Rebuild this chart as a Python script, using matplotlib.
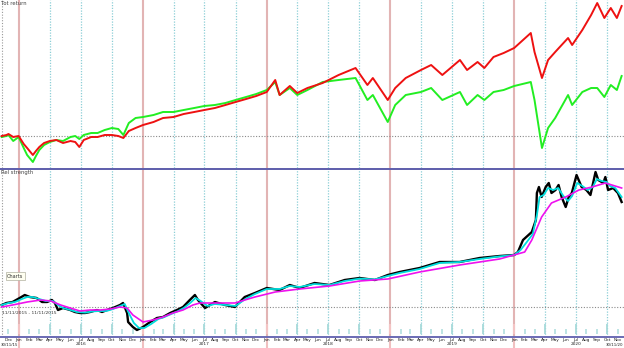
import matplotlib
matplotlib.use("Agg")
import matplotlib.pyplot as plt
import pandas as pd

# ---- data ----
tot_dates = ["2015-11-11", "2015-11-25", "2015-12-01", "2015-12-15", "2015-12-31",
             "2016-01-15", "2016-01-25", "2016-02-11", "2016-02-20", "2016-03-01", "2016-03-15",
             "2016-04-01", "2016-04-20", "2016-05-10", "2016-06-01", "2016-06-15", "2016-06-27",
             "2016-07-10", "2016-08-01", "2016-08-20", "2016-09-10", "2016-10-01", "2016-10-20",
             "2016-11-04", "2016-11-20", "2016-12-10", "2017-01-01",
             "2017-02-01", "2017-03-01", "2017-04-01", "2017-05-01", "2017-06-01", "2017-07-01",
             "2017-08-01", "2017-09-01", "2017-10-01", "2017-11-01", "2017-12-01", "2018-01-01",
             "2018-01-26", "2018-02-08", "2018-03-10", "2018-04-01", "2018-05-01", "2018-06-15",
             "2018-08-01", "2018-09-20", "2018-10-25", "2018-11-10", "2018-12-24", "2019-01-15",
             "2019-02-15", "2019-04-01", "2019-05-01", "2019-06-03", "2019-07-25", "2019-08-15",
             "2019-09-15", "2019-10-05", "2019-11-01", "2019-12-01", "2020-01-01", "2020-02-19",
             "2020-03-01", "2020-03-23", "2020-04-10", "2020-05-01", "2020-06-08", "2020-06-20",
             "2020-07-20", "2020-08-15", "2020-09-02", "2020-09-23", "2020-10-12", "2020-10-30",
             "2020-11-13"]
tot_red = [100, 100.5, 101, 99.5, 100,
           96, 94, 90.5, 92.5, 94.5, 96.5,
           97.5, 98, 96.5, 97.5, 97, 94.5,
           98, 99.5, 99.5, 100.5, 100.5, 100,
           99, 102.5, 104, 105.5,
           107, 109, 109.5, 111, 112, 113,
           114, 115.5, 117, 118.5, 120, 122,
           128, 120.5, 125, 121.5, 124, 126.5,
           130.5, 134, 125.5, 129, 118, 124,
           129, 133, 135.5, 130.5, 138, 133,
           137, 134, 139.5, 141.5, 144, 151.5,
           142, 129, 138, 142, 149, 145.5,
           153, 160.5, 166.5, 159, 164, 159,
           165]
tot_green = [99.5, 100, 100.5, 97.5, 99.5,
             94, 90.5, 87, 90, 93, 95.5,
             97, 98, 97.5, 99.5, 100, 98.5,
             100.5, 101.5, 101.5, 103, 104, 103.5,
             100.5, 106.5, 109, 109.5,
             110.5, 112, 112, 113, 114, 115,
             115.5, 116.5, 118, 119.5, 121, 123,
             127, 120.5, 124, 120.5, 123, 127,
             128, 129, 118, 120.5, 107, 115.5,
             120.5, 122, 124, 118, 122, 115.5,
             120.5, 118, 122, 123, 125, 127,
             118, 94, 104, 109, 120.5, 115.5,
             122, 124, 124, 119.5, 125.5, 123,
             130]

rs_dates = ["2015-11-11", "2015-11-25", "2015-12-13", "2016-01-03", "2016-01-18", "2016-02-02",
            "2016-02-22", "2016-03-09", "2016-03-24", "2016-04-07", "2016-04-16", "2016-04-25",
            "2016-05-10", "2016-05-31", "2016-06-14", "2016-06-29", "2016-07-14", "2016-07-29",
            "2016-08-18", "2016-09-02", "2016-09-17", "2016-10-04", "2016-10-25", "2016-11-03",
            "2016-11-15", "2016-11-18", "2016-12-02", "2016-12-14", "2017-01-01", "2017-01-22",
            "2017-02-11", "2017-03-01", "2017-03-22", "2017-04-11", "2017-04-29", "2017-05-19",
            "2017-06-03", "2017-06-12", "2017-07-03", "2017-08-01", "2017-08-31", "2017-09-29",
            "2017-10-28", "2017-11-27", "2018-01-01", "2018-02-08", "2018-03-10", "2018-04-08",
            "2018-05-22", "2018-07-05", "2018-08-19", "2018-10-02", "2018-11-16", "2018-12-24",
            "2019-01-28", "2019-03-28", "2019-05-26", "2019-07-24", "2019-09-21", "2019-11-19",
            "2020-01-01", "2020-01-12", "2020-01-27", "2020-02-22", "2020-03-05", "2020-03-08",
            "2020-03-14", "2020-03-22", "2020-04-03", "2020-04-12", "2020-04-20", "2020-05-02",
            "2020-05-11", "2020-05-20", "2020-06-01", "2020-06-10", "2020-06-19", "2020-07-03",
            "2020-07-18", "2020-08-01", "2020-08-13", "2020-08-28", "2020-09-05", "2020-09-20",
            "2020-09-26", "2020-10-04", "2020-10-19", "2020-11-02", "2020-11-13"]
rs_black = [101, 102, 102.5, 104.5, 106, 105,
            104.5, 102.5, 102.5, 103.5, 102, 98.5,
            99.5, 98.5, 97.5, 97, 97, 97.5,
            98.5, 97.5, 98.5, 99.5, 101, 102,
            97, 92.5, 90, 88.5, 90, 92.5,
            94.5, 95, 97, 98.5, 100, 103.5,
            106, 103.5, 99.5, 102.5, 101, 100,
            105, 107, 109.5, 108.5, 111, 109.5,
            112, 111, 113.5, 114.5, 113.5, 116,
            117.5, 119.5, 122.5, 122.5, 124.5, 125.5,
            126, 127.5, 133.5, 137.5, 143.5, 157,
            160, 155, 160, 162, 157, 158.5,
            161, 155, 150, 155, 157, 166,
            160, 158.5, 156, 167.5, 163.5, 162,
            165, 158.5, 159.5, 157, 152.5]

cyan_dates = ["2015-11-11", "2015-12-01", "2015-12-20", "2016-01-10", "2016-01-25", "2016-02-10",
              "2016-03-01", "2016-03-20", "2016-04-10", "2016-04-25", "2016-05-10", "2016-06-01",
              "2016-06-20", "2016-07-15", "2016-08-05", "2016-08-25", "2016-09-15", "2016-10-05",
              "2016-10-25", "2016-11-08", "2016-11-20", "2016-12-05", "2016-12-20", "2017-01-05",
              "2017-01-25", "2017-02-15", "2017-03-05", "2017-03-25", "2017-04-15", "2017-05-01",
              "2017-05-20", "2017-06-05", "2017-06-20", "2017-07-10", "2017-08-01", "2017-09-01",
              "2017-10-01", "2017-10-30", "2017-11-27", "2018-01-01", "2018-02-08", "2018-03-10",
              "2018-04-08", "2018-05-22", "2018-07-05", "2018-08-19", "2018-10-02", "2018-11-16",
              "2018-12-24", "2019-01-28", "2019-03-28", "2019-05-26", "2019-07-24", "2019-09-21",
              "2019-11-19", "2020-01-01", "2020-01-20", "2020-02-05", "2020-02-25", "2020-03-08",
              "2020-03-16", "2020-03-28", "2020-04-10", "2020-04-25", "2020-05-10", "2020-05-25",
              "2020-06-08", "2020-06-20", "2020-07-05", "2020-07-20", "2020-08-05", "2020-08-20",
              "2020-09-01", "2020-09-15", "2020-09-30", "2020-10-10", "2020-10-25", "2020-11-13"]
rs_cyan = [101, 102, 102.5, 104, 105, 105,
           104, 103, 103, 101, 99.5, 98.5,
           97.5, 97.2, 97.8, 98, 98, 99,
           100.5, 101.5, 97, 92, 89.5, 89.5,
           91.5, 94, 95, 96.5, 98, 99.5,
           102, 104.5, 103, 100.5, 101.5, 101,
           100.5, 104, 106.5, 109, 109, 110.5,
           110, 111.5, 111, 113, 114.2, 113.8,
           115.5, 117, 119, 122, 122.5, 124,
           125.3, 126, 128.5, 132, 136.5, 146,
           155, 156, 159.5, 158.5, 159.5, 155.5,
           153, 155.5, 162, 160.5, 158.5, 160,
           164, 163, 162.5, 160.5, 159.5, 155]

ma_dates = ["2015-11-11", "2015-12-13", "2016-01-25", "2016-03-05", "2016-04-04", "2016-05-03",
            "2016-05-31", "2016-06-29", "2016-07-29", "2016-08-28", "2016-09-27", "2016-10-25",
            "2016-11-15", "2016-12-02", "2017-01-01", "2017-01-30", "2017-03-01", "2017-03-30",
            "2017-04-29", "2017-05-28", "2017-06-18", "2017-08-01", "2017-09-29", "2017-11-27",
            "2018-01-26", "2018-04-08", "2018-07-05", "2018-10-02", "2018-12-24", "2019-03-28",
            "2019-07-24", "2019-11-19", "2020-02-01", "2020-02-22", "2020-03-22", "2020-04-20",
            "2020-06-01", "2020-07-10", "2020-08-18", "2020-09-26", "2020-11-13"]
rs_magenta = [100, 101, 102.5, 103.5, 103, 101,
              99.5, 98, 98.5, 98.5, 99, 100,
              99.5, 96, 92.5, 93.5, 95, 97,
              98.5, 101, 102, 102, 102, 105,
              107.5, 109, 110.5, 113, 114, 117.5,
              121, 124, 127.5, 133.5, 145, 152,
              155, 158.5, 160, 162, 159.5]

months = ["Jan", "Feb", "Mar", "Apr", "May", "Jun", "Jul", "Aug", "Sep", "Oct", "Nov", "Dec"]
first_date_label = "30/11/15"
last_date_label = "30/11/20"

# ---- figure ----
fig = plt.figure(figsize=(6.24, 3.48), dpi=100)
H = 348.0
ax1 = fig.add_axes([0, 1 - 168 / H, 1, 168 / H])
ax2 = fig.add_axes([0, 1 - 337 / H, 1, 168 / H])

x0, x1 = pd.Timestamp("2015-11-06"), pd.Timestamp("2020-11-20")
month_starts = pd.date_range("2015-12-01", "2020-11-01", freq="MS")

for ax in (ax1, ax2):
    ax.set_xlim(x0, x1)
    for d in month_starts:
        if d.month == 1:
            ax.axvline(d, color="#e2b4b4", lw=1.5, zorder=0)
        elif d.month in (4, 7, 10):
            ax.axvline(d, color="#8ccfd6", lw=0.9, ls=(0, (1, 1.2)), zorder=0)
    ax.axvline(pd.Timestamp("2015-11-11"), color="#999999", lw=0.8, ls=(0, (1, 1.5)), zorder=0)
    ax.axhline(100, color="#8a8a8a", lw=0.8, ls=(0, (1, 1.5)), zorder=0)
    for s in ("left", "right", "top", "bottom"):
        ax.spines[s].set_visible(False)
    ax.set_yticks([])

# Jan lines run on down through the date labels
for d in month_starts:
    if d.month == 1:
        ax2.axvline(d, ymin=-0.07, ymax=0, color="#f0c0c0", lw=1.5, clip_on=False, zorder=0)

# top panel
td = pd.to_datetime(tot_dates)
ax1.plot(td, tot_green, color="#22ee22", lw=1.4, zorder=3)
ax1.plot(td, tot_red, color="#ee1111", lw=1.4, zorder=4)
ax1.set_ylim(84, 168)
ax1.set_xticks([])
ax1.text(0.002, 0.997, "Tot return", transform=ax1.transAxes, fontsize=3.8,
         color="#444444", va="top", ha="left")

# bottom panel
ax2.plot(pd.to_datetime(rs_dates), rs_black, color="black", lw=1.7, zorder=3)
ax2.plot(pd.to_datetime(cyan_dates), rs_cyan, color="#00dede", lw=1.3, zorder=4)
ax2.plot(pd.to_datetime(ma_dates), rs_magenta, color="#ee11ee", lw=1.2, zorder=5)
ax2.set_ylim(85, 169)
ax2.spines["top"].set_visible(True)
ax2.spines["top"].set_color("#5d5dab")
ax2.spines["top"].set_linewidth(1.4)
ax2.spines["bottom"].set_visible(True)
ax2.spines["bottom"].set_color("#6a6ab4")
ax2.spines["bottom"].set_linewidth(1.4)
ax2.text(0.002, 0.992, "Rel strength", transform=ax2.transAxes, fontsize=3.8,
         color="#444444", va="top", ha="left")

# month bars at the foot of the panel
xt = ax2.get_xaxis_transform()
for d in month_starts:
    if d.month == 1:
        ax2.vlines(d, 0.02, 0.075, color="#f4c4c4", lw=1.5, transform=xt)
    elif d.month in (4, 7, 10):
        ax2.vlines(d, 0.02, 0.075, color="#a6dada", lw=1.3, transform=xt)
    else:
        ax2.vlines(d, 0.02, 0.05, color="#b8e2e2", lw=1.3, transform=xt)

labels = []
for d in month_starts:
    lab = months[d.month - 1]
    if d.month == 7:
        lab += "\n" + str(d.year)
    labels.append(lab)
ax2.set_xticks(month_starts)
ax2.set_xticklabels(labels, fontsize=3.1, color="#222222", linespacing=0.85,
                    va="top")
ax2.tick_params(axis="x", length=0, pad=0.8)

# the first and last month carry the date range under them
fig.text(1 / 624, 1 - 343.5 / H, first_date_label, fontsize=2.8, color="#222222",
         ha="left", va="top")
fig.text(623 / 624, 1 - 343.5 / H, last_date_label, fontsize=2.8, color="#222222",
         ha="right", va="top")

fig.text(7 / 624, 1 - 276 / H, "Charts", fontsize=3.6, color="#333333", va="center",
         bbox=dict(boxstyle="square,pad=0.3", fc="#fffff0", ec="#b0b0a0", lw=0.5))
fig.text(2 / 624, 1 - 313 / H, "11/11/2015 - 11/11/2015", fontsize=3.2, color="#333333",
         va="center")

fig.savefig("out.png", dpi=100, facecolor="white")
